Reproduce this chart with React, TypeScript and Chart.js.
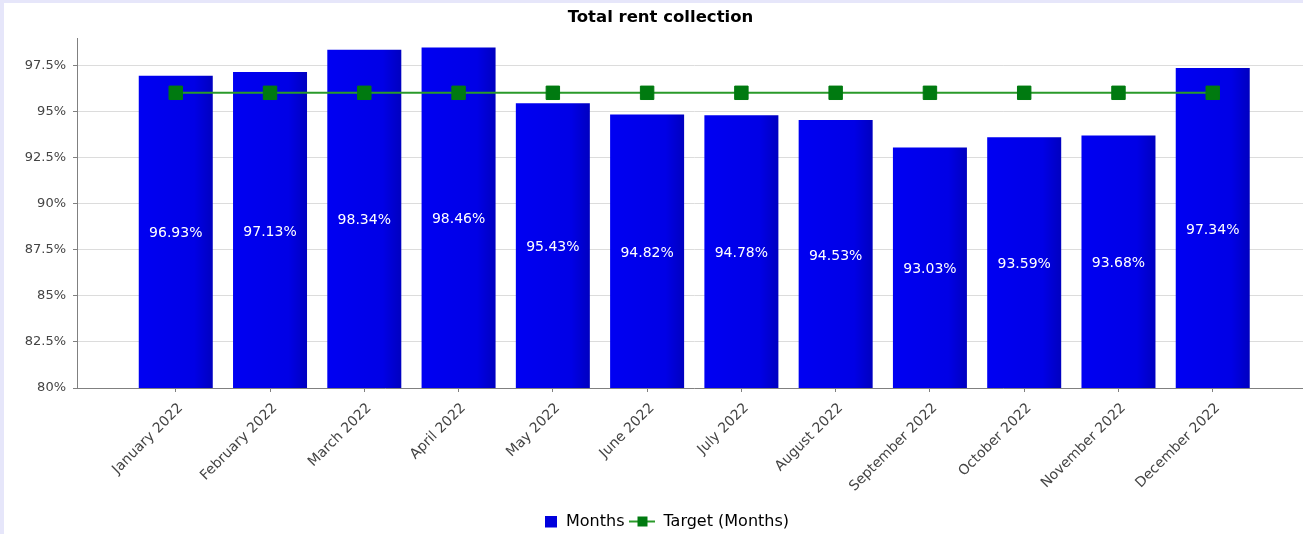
import React, { useEffect, useRef } from "react";
import { Chart, registerables } from "chart.js";

Chart.register(...registerables);

const categories = [
  "January 2022", "February 2022", "March 2022", "April 2022", "May 2022", "June 2022",
  "July 2022", "August 2022", "September 2022", "October 2022", "November 2022", "December 2022",
];
const monthsValues = [96.93, 97.13, 98.34, 98.46, 95.43, 94.82, 94.78, 94.53, 93.03, 93.59, 93.68, 97.34];
const targetValues = [96, 96, 96, 96, 96, 96, 96, 96, 96, 96, 96, 96];
const yTicks = [80, 82.5, 85, 87.5, 90, 92.5, 95, 97.5];

const FONT = "'DejaVu Sans', Tahoma, sans-serif";

function makeMonthsIcon() {
  const c = document.createElement("canvas");
  c.width = 26;
  c.height = 13;
  const g = c.getContext("2d")!;
  g.fillStyle = "#0000dd";
  g.fillRect(13, 0, 12, 12);
  return c;
}

function makeTargetIcon() {
  const c = document.createElement("canvas");
  c.width = 26;
  c.height = 13;
  const g = c.getContext("2d")!;
  g.fillStyle = "#2a9a2a";
  g.fillRect(0, 5, 26, 2);
  g.fillStyle = "#007a10";
  g.fillRect(8, 1, 10, 10);
  return c;
}

const barLabelPlugin = {
  id: "barLabels",
  afterDraw(chart: any) {
    const xs = chart.scales.x;
    const ys = chart.scales.y;
    const ctx = chart.ctx;
    ctx.save();
    ctx.font = "14px 'DejaVu Sans'";
    ctx.fillStyle = "#ffffff";
    ctx.textAlign = "center";
    ctx.textBaseline = "middle";
    monthsValues.forEach((v, i) => {
      const x = xs.getPixelForValue(i);
      const top = ys.getPixelForValue(v);
      const base = ys.getPixelForValue(ys.min);
      ctx.fillText(v.toFixed(2) + "%", x, (top + base) / 2 + 2);
    });
    ctx.restore();
  },
};

export default function App() {
  const ref = useRef<HTMLCanvasElement | null>(null);

  useEffect(() => {
    if (!ref.current) return;
    Chart.defaults.font.family = FONT;
    const monthsIcon = makeMonthsIcon();
    const targetIcon = makeTargetIcon();

    const chart = new Chart(ref.current, {
      type: "bar",
      data: {
        datasets: [
          {
            type: "bar",
            label: "Months",
            data: monthsValues.map((v, i) => ({ x: i, y: v })) as any,
            backgroundColor: (c: any) => {
              const chartI = c.chart;
              const xs = chartI.scales?.x;
              if (!xs || !chartI.chartArea || c.dataIndex === undefined) return "#0000e6";
              const cx = xs.getPixelForValue(c.dataIndex);
              const g = chartI.ctx.createLinearGradient(cx - 37, 0, cx + 37, 0);
              g.addColorStop(0, "#0000f2");
              g.addColorStop(0.75, "#0000e6");
              g.addColorStop(1, "#0000c0");
              return g;
            },
            borderWidth: 0,
            barPercentage: 0.785,
            categoryPercentage: 1,
            order: 2,
          },
          {
            type: "line",
            label: "Target (Months)",
            data: targetValues.map((v, i) => ({ x: i, y: v })) as any,
            borderColor: "#2a9a2a",
            borderWidth: 2,
            pointStyle: "rect",
            pointRadius: 9.5,
            pointBackgroundColor: "#007a10",
            pointBorderColor: "#007a10",
            pointBorderWidth: 1,
            fill: false,
            tension: 0,
            order: 1,
          },
        ],
      },
      options: {
        responsive: false,
        animation: false,
        layout: { padding: { left: 0, right: 5, top: 0, bottom: 0 } },
        plugins: {
          tooltip: { enabled: false },
          title: {
            display: true,
            text: "Total rent collection",
            color: "#000000",
            font: { size: 16.5, weight: "bold", family: FONT },
            padding: { top: 4.4, bottom: 11 },
          },
          legend: {
            position: "bottom",
            labels: {
              usePointStyle: true,
              pointStyleWidth: 26,
              padding: 5,
              color: "#222222",
              font: { size: 16, family: FONT },
              generateLabels: () => [
                {
                  text: "Months",
                  pointStyle: monthsIcon as any,
                  fillStyle: "#0000dd",
                  strokeStyle: "#0000dd",
                  lineWidth: 0,
                  hidden: false,
                  datasetIndex: 0,
                },
                {
                  text: "Target (Months)",
                  pointStyle: targetIcon as any,
                  fillStyle: "#007a10",
                  strokeStyle: "#007a10",
                  lineWidth: 0,
                  hidden: false,
                  datasetIndex: 1,
                },
              ],
            },
          },
        },
        scales: {
          x: {
            type: "linear",
            min: -1.0476,
            max: 12.0476,
            offset: false,
            afterFit: (s: any) => {
              s.height = 121;
            },
            afterBuildTicks: (s: any) => {
              s.ticks = categories.map((_, i) => ({ value: i }));
            },
            grid: {
              display: true,
              drawOnChartArea: false,
              drawTicks: true,
              tickLength: 4,
              tickColor: "#808080",
              offset: false,
            },
            border: { display: true, color: "#808080", width: 1 },
            ticks: {
              autoSkip: false,
              minRotation: 45,
              maxRotation: 45,
              padding: 8,
              labelOffset: 5,
              color: "#444444",
              font: { size: 14, family: FONT },
              callback: (v: any) => categories[v] ?? "",
            },
          },
          y: {
            type: "linear",
            min: 80,
            max: 98.96,
            afterFit: (s: any) => {
              s.width = 73;
            },
            afterBuildTicks: (s: any) => {
              s.ticks = yTicks.map((v) => ({ value: v }));
            },
            grid: {
              color: "#dcdcdc",
              lineWidth: 1,
              tickLength: 4,
              tickColor: "#808080",
            },
            border: { display: true, color: "#808080", width: 1 },
            ticks: {
              padding: 7,
              color: "#444444",
              font: { size: 13, family: FONT },
              callback: (v: any) => `${v}%`,
            },
          },
        },
      },
      plugins: [barLabelPlugin],
    } as any);

    return () => chart.destroy();
  }, []);

  return (
    <div
      style={{
        position: "fixed",
        left: 0,
        top: 0,
        width: 1303,
        height: 534,
        overflow: "hidden",
        background: "#e6e6fa",
      }}
    >
      <div style={{ position: "absolute", left: 4, top: 3, width: 1318, height: 537, background: "#ffffff" }}>
        <canvas ref={ref} width={1318} height={537} style={{ display: "block" }} />
      </div>
    </div>
  );
}
